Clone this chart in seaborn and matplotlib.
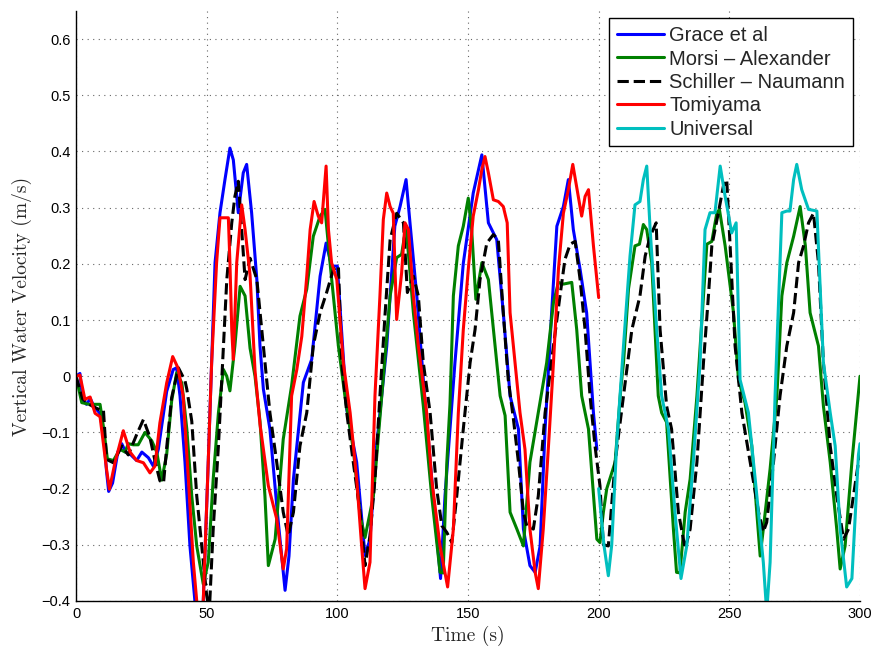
import numpy as np
import pandas as pd
import matplotlib
matplotlib.use("Agg")
import matplotlib.pyplot as plt
import seaborn as sns
from matplotlib.ticker import MultipleLocator

# ---------------- data ----------------
grace_t = [0, 1.5, 2.5, 4, 5.5, 7, 9, 10.5, 11.7, 12.5, 14, 16, 17.5, 19, 21, 23.2, 25.2, 27.7,
           29.6, 31.5, 34.7, 37.2, 38.5, 39.8, 41.7, 43.6, 45.5, 47, 48.7, 50.6, 51.9, 53.2,
           55.1, 57, 58.9, 60.2, 62.1, 64, 65.3, 67.2, 69.2, 70.4, 71.7, 74.2, 77, 80, 81.5,
           83.2, 87, 90.2, 93.4, 95.7, 97.8, 100, 103.6, 107.4, 110.6, 112.5, 115, 118.9, 122,
           124, 126.3, 127.8, 130.4, 133.6, 136.7, 139.5, 141.2, 145, 148.2, 152, 155.3, 157.8,
           161, 163.5, 166.1, 169.3, 171.2, 173.7, 175.7, 177.6, 179.5, 182, 184, 186.5, 188.4,
           190.3, 192.9, 195.4, 198, 199.3]
grace_v = [0, 0.005, -0.04, -0.05, -0.04, -0.055, -0.065, -0.1, -0.17, -0.205, -0.19, -0.135,
           -0.12, -0.135, -0.14, -0.15, -0.135, -0.145, -0.16, -0.13, -0.027, 0.012, 0.015,
           -0.035, -0.153, -0.302, -0.4, -0.45, -0.4, -0.153, 0.024, 0.202, 0.291, 0.35, 0.406,
           0.385, 0.291, 0.362, 0.377, 0.291, 0.172, 0.054, -0.023, -0.094, -0.24, -0.381,
           -0.32, -0.183, -0.011, 0.03, 0.178, 0.237, 0.196, 0.196, -0.059, -0.153, -0.319,
           -0.29, -0.125, 0.053, 0.267, 0.302, 0.35, 0.273, 0.143, -0.047, -0.213, -0.36,
           -0.213, 0.024, 0.201, 0.326, 0.394, 0.273, 0.243, 0.113, -0.035, -0.094, -0.272,
           -0.337, -0.349, -0.302, -0.094, 0.113, 0.267, 0.302, 0.35, 0.261, 0.19, 0.113,
           -0.065, -0.13]

morsi_t = [0, 2.2, 5, 9.2, 10.5, 12, 14.3, 16.8, 18.8, 20, 21.9, 23.8, 26.4, 29, 30.9, 32.8,
           34.7, 36.6, 38.5, 40.5, 42.4, 44.3, 46.2, 48.7, 50.6, 52.5, 54.5, 56.4, 57.7, 58.9,
           60.8, 62.8, 64.7, 66.6, 68.5, 70.4, 72.3, 73.6, 76.2, 79.3, 82.5, 85.7, 88.3, 90.8,
           93.4, 95.3, 97.2, 100.4, 102.9, 106.1, 108.7, 110.6, 113.8, 117, 120.2, 122.7, 124.6,
           126.3, 129.1, 132.9, 136.1, 139.3, 140.5, 141.9, 143.1, 144.4, 146.3, 148.2, 150.1,
           151.4, 153, 155.3, 157.8, 161, 162.3, 164.2, 166.1, 168.7, 171.2, 173.7, 176.9,
           180.1, 182.7, 184.6, 186.5, 189.7, 191.6, 193.5, 196.1, 199.3, 200.5, 201.8, 203.1,
           206.3, 208.5, 209.5, 211.4, 213.9, 215.6, 217.1, 218.4, 220.3, 222.8, 224.1, 226,
           228.6, 229.8, 231.1, 233.1, 235, 237.6, 240.1, 241.4, 243.3, 245.2, 246.2, 248.4,
           251.6, 253.5, 256, 258.6, 260.5, 261.8, 263, 265.6, 268.2, 270.1, 272, 274.6, 277.1,
           279.1, 280.9, 284.1, 286, 288.6, 291.1, 292.4, 294.3, 296.9, 300]
morsi_v = [0, -0.047, -0.05, -0.05, -0.09, -0.147, -0.15, -0.13, -0.135, -0.12, -0.122, -0.122,
           -0.1, -0.115, -0.135, -0.185, -0.139, -0.044, 0.006, -0.012, -0.094, -0.213, -0.302,
           -0.37, -0.331, -0.183, -0.065, 0.012, 0.0, -0.026, 0.054, 0.16, 0.143, 0.05, 0.0,
           -0.08, -0.213, -0.337, -0.29, -0.112, -0.017, 0.107, 0.155, 0.249, 0.285, 0.297,
           0.202, 0.054, -0.035, -0.13, -0.248, -0.287, -0.213, -0.035, 0.143, 0.211, 0.217,
           0.267, 0.113, -0.053, -0.213, -0.349, -0.35, -0.153, -0.05, 0.143, 0.232, 0.267,
           0.317, 0.261, 0.137, 0.202, 0.172, 0.024, -0.035, -0.07, -0.242, -0.272, -0.302,
           -0.153, -0.065, 0.024, 0.131, 0.167, 0.164, 0.167, 0.083, -0.035, -0.094, -0.29,
           -0.296, -0.242, -0.2, -0.153, -0.02, 0.024, 0.155, 0.232, 0.235, 0.27, 0.261, 0.202,
           -0.035, -0.065, -0.082, -0.272, -0.349, -0.35, -0.242, -0.183, -0.035, 0.143, 0.235,
           0.24, 0.29, 0.297, 0.232, 0.113, -0.006, -0.047, -0.124, -0.242, -0.32, -0.272,
           -0.165, -0.035, 0.143, 0.202, 0.249, 0.302, 0.232, 0.113, 0.054, -0.053, -0.153,
           -0.272, -0.343, -0.302, -0.153, 0.0]

schiller_t = [0, 2.5, 5, 7, 9.2, 10.5, 11.7, 14.3, 17.5, 20, 23.2, 25.8, 28.3, 30.2, 32.1, 33.5,
              34.7, 36.6, 39.2, 41.7, 42.4, 44.3, 46.2, 48.1, 50, 51, 52.5, 54.5, 56.4, 57.7,
              59.6, 60.8, 62.1, 63.4, 64.7, 66.6, 69.2, 71.7, 74.2, 76.8, 79.3, 81.2, 83.2, 85.7,
              88.3, 90.8, 93.4, 95.9, 98.5, 100.4, 101.7, 103.6, 106.1, 108.7, 110.6, 112.5,
              114.4, 116.3, 118.3, 120.2, 122.7, 125.3, 126.8, 129.1, 131, 132.9, 135.5, 138,
              140, 141.9, 143.8, 145.7, 148.2, 150.8, 152.7, 154.6, 157.2, 159.7, 161.6, 163.5,
              165.4, 167.4, 169.3, 171.2, 172.5, 175, 176.9, 179.5, 182.7, 185.2, 187.1, 189.1,
              191, 192.9, 194.8, 196.7, 198.6, 200.5, 201.8, 203.7, 206.3, 209.5, 212.7, 215.8,
              217.8, 219.7, 222, 223.5, 226, 227.9, 230.5, 233.1, 235, 237.6, 240.1, 242, 243.3,
              245.8, 247.7, 249, 250.3, 252.2, 254.8, 258, 261.2, 263, 264.3, 266.9, 269.4, 272,
              274.6, 276.5, 278.4, 280.3, 282.2, 284.1, 286, 288.6, 291.1, 293.7, 295.6, 297.5,
              299.4, 300]
schiller_v = [0, -0.04, -0.05, -0.055, -0.06, -0.06, -0.148, -0.154, -0.124, -0.14, -0.104,
              -0.077, -0.109, -0.15, -0.186, -0.19, -0.127, -0.038, 0.015, -0.008, -0.023,
              -0.08, -0.213, -0.302, -0.39, -0.42, -0.272, -0.124, 0.054, 0.172, 0.273, 0.32,
              0.347, 0.261, 0.172, 0.21, 0.172, 0.054, -0.065, -0.153, -0.242, -0.284, -0.242,
              -0.124, -0.065, 0.054, 0.113, 0.149, 0.19, 0.196, 0.024, -0.065, -0.153, -0.242,
              -0.337, -0.284, -0.183, -0.035, 0.113, 0.243, 0.29, 0.273, 0.149, 0.178, 0.143,
              0.024, -0.065, -0.2, -0.266, -0.278, -0.296, -0.213, -0.094, 0.024, 0.083, 0.172,
              0.237, 0.252, 0.243, 0.113, -0.006, -0.077, -0.153, -0.242, -0.266, -0.272,
              -0.213, -0.065, 0.054, 0.143, 0.208, 0.235, 0.24, 0.172, 0.083, -0.035, -0.124,
              -0.195, -0.3, -0.302, -0.153, -0.035, 0.083, 0.143, 0.214, 0.249, 0.273, 0.083,
              -0.053, -0.094, -0.242, -0.307, -0.272, -0.153, 0.024, 0.143, 0.232, 0.291, 0.338,
              0.35, 0.232, 0.054, -0.065, -0.153, -0.242, -0.277, -0.26, -0.153, -0.035, 0.054,
              0.113, 0.202, 0.232, 0.273, 0.29, 0.202, 0.024, -0.124, -0.213, -0.29, -0.272,
              -0.213, -0.153, -0.13]

tomiyama_t = [0, 1.5, 3.4, 5.4, 7.3, 9.2, 11.7, 12.8, 14.9, 18.1, 20.7, 23.2, 25.8, 28.3, 30.2,
              32.1, 34.7, 37, 39, 41, 43, 44.9, 46.2, 47.5, 48.7, 50.6, 51.9, 53.8, 55.1, 58.3,
              58.9, 59.6, 60.2, 61.5, 63.4, 64.7, 66.6, 68.5, 70.4, 73.6, 76.8, 79.3, 80.6, 82.5,
              84.5, 86.4, 88.3, 89.6, 91.1, 92.7, 94, 95.7, 96.6, 97.8, 99.8, 102.3, 104.9, 107.4,
              109.3, 110.6, 112.5, 114.4, 116.3, 117.6, 118.9, 120.2, 121.4, 122.7, 124.6, 125.9,
              127.2, 129.1, 131, 134.2, 136.1, 139.3, 142.2, 144.4, 146.3, 148.2, 150.1, 152,
              154, 155.3, 156.5, 157.8, 159.7, 161.6, 163.5, 165, 166.1, 168, 169.9, 171.8, 173.7,
              175.7, 176.9, 178.8, 180.8, 182.7, 184.6, 186.5, 188.4, 190.1, 192.2, 193.5, 194.8,
              196.1, 198, 200]
tomiyama_v = [0, 0.002, -0.041, -0.037, -0.066, -0.072, -0.166, -0.201, -0.154, -0.097, -0.135,
              -0.15, -0.154, -0.172, -0.16, -0.083, -0.012, 0.035, 0.015, -0.035, -0.183, -0.331,
              -0.4, -0.45, -0.4, -0.153, 0.024, 0.202, 0.282, 0.282, 0.202, 0.083, 0.03, 0.202,
              0.305, 0.261, 0.18, 0.01, -0.085, -0.195, -0.254, -0.343, -0.307, -0.035, 0.012,
              0.071, 0.178, 0.261, 0.311, 0.285, 0.273, 0.374, 0.261, 0.202, 0.172, 0.024,
              -0.065, -0.183, -0.302, -0.378, -0.331, -0.035, 0.143, 0.279, 0.326, 0.302, 0.29,
              0.101, 0.184, 0.273, 0.261, 0.143, 0.054, -0.065, -0.183, -0.302, -0.375, -0.272,
              -0.065, 0.083, 0.19, 0.285, 0.332, 0.368, 0.391, 0.362, 0.314, 0.311, 0.302, 0.273,
              0.113, 0.024, -0.065, -0.13, -0.272, -0.349, -0.378, -0.272, -0.124, 0.024, 0.19,
              0.29, 0.332, 0.377, 0.32, 0.285, 0.32, 0.332, 0.232, 0.14]

universal_t = [200, 202, 203.7, 205, 206.9, 209.5, 212, 213.9, 215.8, 217.1, 218.4, 219.7, 222.2,
               224.1, 226.7, 229.2, 231.5, 233.7, 236.2, 238.8, 240.7, 242.6, 244.5, 246.5, 248.4,
               250.9, 252.6, 254.1, 257.3, 259.9, 263, 264.3, 265.6, 267.5, 270.1, 272, 273.2,
               274.6, 275.8, 277.7, 280.3, 283.5, 286, 288.6, 290.5, 292.4, 294.9, 296.9, 299.4,
               300]
universal_v = [-0.2, -0.3, -0.355, -0.3, -0.12, 0.054, 0.214, 0.305, 0.311, 0.35, 0.374, 0.261,
               0.083, -0.035, -0.094, -0.242, -0.36, -0.302, -0.153, 0.024, 0.261, 0.291, 0.291,
               0.374, 0.32, 0.255, 0.273, -0.006, -0.065, -0.183, -0.331, -0.42, -0.331, -0.035,
               0.291, 0.294, 0.294, 0.35, 0.377, 0.332, 0.297, 0.294, 0.024, -0.065, -0.124,
               -0.272, -0.375, -0.36, -0.14, -0.12]

labels = ["Grace et al", "Morsi \u2013 Alexander", "Schiller \u2013 Naumann", "Tomiyama", "Universal"]
x_ticks = [0, 50, 100, 150, 200, 250, 300]
y_ticks = [-0.4, -0.3, -0.2, -0.1, 0, 0.1, 0.2, 0.3, 0.4, 0.5, 0.6]

# ---------------- styling ----------------
sns.set_style("white")
plt.rcParams["font.family"] = ["Liberation Sans", "DejaVu Sans"]

fig = plt.figure(figsize=(8.72, 6.52), dpi=100)
ax = fig.add_axes([76 / 872, 1 - 601 / 652, (860 - 76) / 872, (601 - 11) / 652])

series = [
    (grace_t, grace_v, labels[0], "#0000ff", "-"),
    (morsi_t, morsi_v, labels[1], "#008000", "-"),
    (schiller_t, schiller_v, labels[2], "#000000", "--"),
    (tomiyama_t, tomiyama_v, labels[3], "#ff0000", "-"),
    (universal_t, universal_v, labels[4], "#00bfbf", "-"),
]
for t, v, lab, col, ls in series:
    df = pd.DataFrame({"t": t, "v": v})
    sns.lineplot(data=df, x="t", y="v", ax=ax, color=col, linestyle=ls, linewidth=2.2,
                 label=lab, estimator=None, sort=False)

ax.set_xlim(0, 300)
ax.set_ylim(-0.4, 0.65)
ax.set_xticks(x_ticks)
ax.set_yticks(y_ticks)
ax.set_xticklabels([str(x) for x in x_ticks])
ax.set_yticklabels(["\u22120.4", "\u22120.3", "\u22120.2", "\u22120.1", "0", "0.1", "0.2",
                    "0.3", "0.4", "0.5", "0.6"])
ax.yaxis.set_minor_locator(MultipleLocator(0.01))

ax.grid(True, which="major", color="#666666", linestyle=(0, (1, 4)), linewidth=0.8)
for s in ["top", "right"]:
    ax.spines[s].set_visible(False)
for s in ["left", "bottom"]:
    ax.spines[s].set_color("black")
    ax.spines[s].set_linewidth(1.0)

ax.tick_params(axis="both", which="major", direction="in", length=5, width=0.8,
               labelsize=10.5, colors="black", pad=4)
ax.tick_params(axis="y", which="minor", direction="out", length=2, width=0.5, color="#444444")
ax.tick_params(axis="x", which="minor", length=0)

ax.set_xlabel("Time (s)", fontfamily="cmr10", fontsize=14, labelpad=4)
ax.set_ylabel("Vertical Water Velocity (m/s)", fontfamily="cmr10", fontsize=14, labelpad=7)

leg = ax.legend(loc="upper right", fontsize=14.5, handlelength=2.35, labelspacing=0.22,
                borderpad=0.38, handletextpad=0.25, borderaxespad=0.37, fancybox=False,
                framealpha=1, edgecolor="black")
leg.get_frame().set_linewidth(1.0)

fig.savefig("out.png", dpi=100)
